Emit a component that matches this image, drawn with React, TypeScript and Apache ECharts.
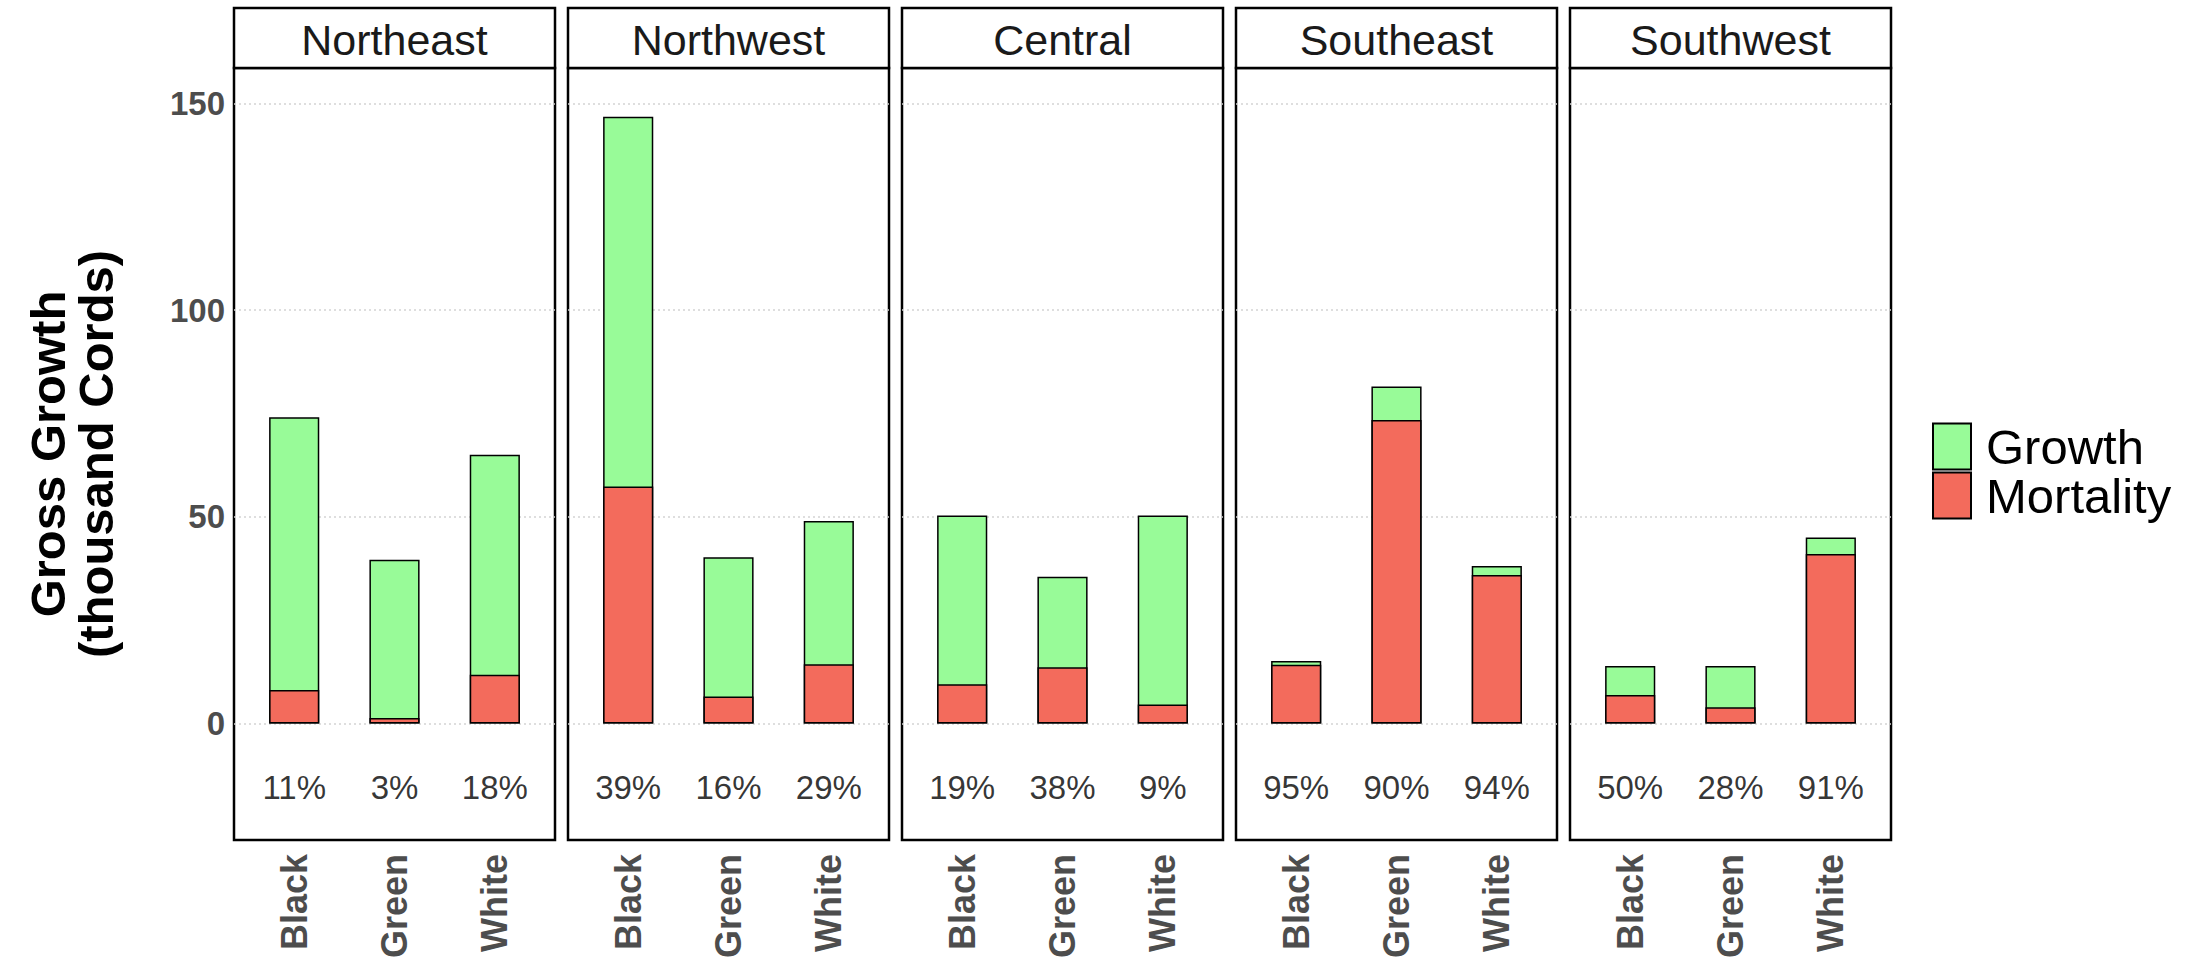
import React, { useEffect, useRef } from 'react';
import * as echarts from 'echarts';

const regions = ['Northeast', 'Northwest', 'Central', 'Southeast', 'Southwest'];
const species = ['Black', 'Green', 'White'];
// Gross growth (full bar height, thousand cords), per region, per species
const grossGrowth = [
  [74.1, 39.6, 65.0],
  [146.8, 40.2, 49.0],
  [50.3, 35.5, 50.3],
  [15.1, 81.5, 38.1],
  [13.9, 13.9, 45.0],
];
// Mortality part (drawn from zero, over the gross growth bar)
const mortality = [
  [8.1, 1.3, 11.8],
  [57.3, 6.5, 14.3],
  [9.5, 13.6, 4.6],
  [14.2, 73.4, 35.9],
  [6.9, 3.9, 41.0],
];
const mortalityPct = [
  ['11%', '3%', '18%'],
  ['39%', '16%', '29%'],
  ['19%', '38%', '9%'],
  ['95%', '90%', '94%'],
  ['50%', '28%', '91%'],
];
const yTicks = [0, 50, 100, 150];
const xPositions = [1, 2, 3];

const GREEN = '#98FB98';
const RED = '#F36B5C';
const FONT = 'Liberation Sans, Arial, sans-serif';

const PANEL_LEFT = 234;
const PANEL_W = 321;
const PANEL_GAP = 13;
const STRIP_TOP = 8;
const PLOT_TOP = 68;
const PLOT_BOTTOM = 848;
const Y_MIN = -28.2;
const Y_MAX = 158.6;
const LABEL_Y = -15.6;

export default function App() {
  const ref = useRef<HTMLDivElement>(null);

  useEffect(() => {
    document.body.style.margin = '0';
    if (!ref.current) return;
    const chart = echarts.init(ref.current, undefined, { renderer: 'svg' });
    const grids: any[] = [];
    const xAxes: any[] = [];
    const yAxes: any[] = [];
    const series: any[] = [];
    const graphics: any[] = [];
    const barWidth = (PANEL_W / 3.2) * 0.5;

    regions.forEach((region, i) => {
      const left = PANEL_LEFT + i * (PANEL_W + PANEL_GAP);
      grids.push({
        left,
        top: PLOT_TOP,
        width: PANEL_W,
        height: PLOT_BOTTOM - PLOT_TOP,
        show: true,
        borderColor: '#000',
        borderWidth: 2.5,
        backgroundColor: '#fff',
        containLabel: false,
      });
      xAxes.push({
        type: 'value',
        gridIndex: i,
        min: 0.4,
        max: 3.6,
        axisLine: { show: false },
        axisTick: { show: false, customValues: xPositions },
        splitLine: { show: false },
        axisLabel: {
          customValues: xPositions,
          formatter: (v: number) => species[Math.round(v) - 1] ?? '',
          rotate: 90,
          fontSize: 36,
          fontWeight: 'bold',
          color: '#4d4d4d',
          fontFamily: FONT,
          margin: 14,
        },
      });
      yAxes.push({
        type: 'value',
        gridIndex: i,
        min: Y_MIN,
        max: Y_MAX,
        axisLine: { show: false },
        axisTick: { show: false, customValues: yTicks },
        splitLine: {
          show: true,
          lineStyle: { type: [2, 3], color: '#d4d4d4', width: 1.5 },
        },
        axisLabel: {
          show: i === 0,
          customValues: yTicks,
          fontSize: 33,
          fontWeight: 'bold',
          color: '#4d4d4d',
          fontFamily: FONT,
          margin: 9,
        },
        name: i === 0 ? 'Gross Growth\n(thousand Cords)' : '',
        nameLocation: 'middle',
        nameRotate: 90,
        nameGap: 114,
        nameTextStyle: {
          fontSize: 49,
          fontWeight: 'bold',
          color: '#000',
          fontFamily: FONT,
          lineHeight: 48,
        },
      });
      series.push({
        type: 'bar',
        name: 'Growth',
        xAxisIndex: i,
        yAxisIndex: i,
        barWidth,
        barGap: '-100%',
        data: xPositions.map((x, j) => [x, grossGrowth[i][j]]),
        itemStyle: { color: GREEN, borderColor: '#000', borderWidth: 1.5 },
      });
      series.push({
        type: 'bar',
        name: 'Mortality',
        xAxisIndex: i,
        yAxisIndex: i,
        barWidth,
        barGap: '-100%',
        data: xPositions.map((x, j) => [x, mortality[i][j]]),
        itemStyle: { color: RED, borderColor: '#000', borderWidth: 1.5 },
      });
      series.push({
        type: 'scatter',
        name: 'pct' + i,
        xAxisIndex: i,
        yAxisIndex: i,
        symbolSize: 0,
        silent: true,
        data: xPositions.map((x) => [x, LABEL_Y]),
        label: {
          show: true,
          position: 'inside',
          formatter: (p: any) => mortalityPct[i][p.dataIndex],
          fontSize: 33,
          color: '#000',
          fontFamily: FONT,
        },
      });
      graphics.push({
        type: 'group',
        children: [
          {
            type: 'rect',
            shape: { x: left, y: STRIP_TOP, width: PANEL_W, height: PLOT_TOP - STRIP_TOP },
            style: { fill: '#fff', stroke: '#000', lineWidth: 2.5 },
          },
          {
            type: 'text',
            x: left + PANEL_W / 2,
            y: (STRIP_TOP + PLOT_TOP) / 2 + 2,
            style: {
              text: region,
              fontSize: 43,
              fontFamily: FONT,
              fill: '#1a1a1a',
              align: 'center',
              verticalAlign: 'middle',
            },
          },
        ],
      });
    });

    chart.setOption({
      animation: false,
      backgroundColor: '#fff',
      grid: grids,
      xAxis: xAxes,
      yAxis: yAxes,
      series,
      graphic: graphics,
      legend: {
        data: ['Growth', 'Mortality'],
        orient: 'vertical',
        left: 1932,
        top: 422,
        padding: 0,
        itemWidth: 38,
        itemHeight: 46,
        itemGap: 0,
        icon: 'rect',
        selectedMode: false,
        textStyle: {
          fontSize: 49,
          lineHeight: 46,
          color: '#000',
          fontFamily: FONT,
          padding: [0, 0, 0, 10],
        },
      },
    });
    return () => chart.dispose();
  }, []);

  return (
    <div
      ref={ref}
      style={{ position: 'absolute', left: 0, top: 0, width: '2193px', height: '961px' }}
    />
  );
}
